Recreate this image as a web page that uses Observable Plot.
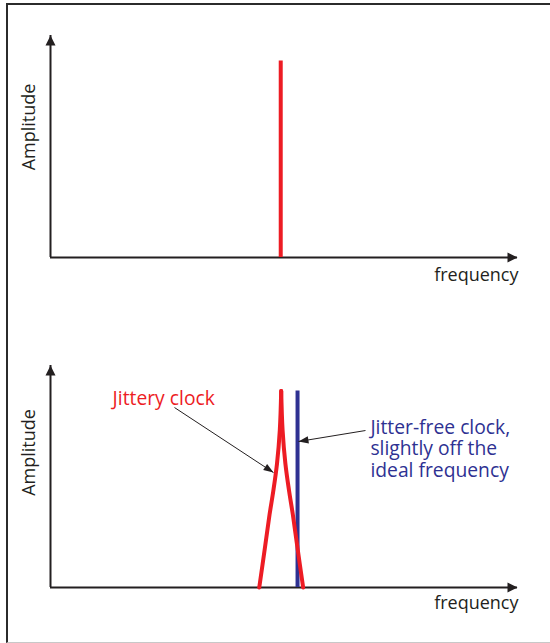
<!DOCTYPE html>
<html>
<head>
<meta charset="utf-8">
<script src="https://cdn.jsdelivr.net/npm/d3@7"></script>
<script src="https://cdn.jsdelivr.net/npm/@observablehq/plot@0.6"></script>
<style>
  body { margin: 0; background: #fff; }
  #wrap { position: relative; width: 550px; height: 643px; overflow: hidden; font-family: "Open Sans", sans-serif; }
  #frame { position: absolute; left: 6px; top: 3px; right: 0; bottom: 0;
           border-top: 2px solid #2b2b2b; border-left: 2px solid #2b2b2b; border-bottom: 1px solid #c8c8c8; }
  .panel { position: absolute; left: 0; }
</style>
</head>
<body>
<div id="wrap">
  <div id="frame"></div>
  <div id="p1" class="panel" style="top:0px"></div>
  <div id="p2" class="panel" style="top:321px"></div>
</div>
<script>
(function () {
// ---------- data ----------
const idealFrequency = 49.3;      // ideal clock frequency (x units, axis 0..100)
const offFrequency = 52.9;        // jitter-free clock, slightly off
const peakAmplitude = 1;
const jitterFreq = [44.7, 45.9, 46.9, 47.7, 48.5, 49.1, 49.4, 49.7, 50.3, 51.1, 51.9, 52.9, 54.1];
const jitterAmp  = [0,    0.20, 0.37, 0.49, 0.63, 0.80, 1.00, 0.80, 0.63, 0.49, 0.37, 0.20, 0];
const xLabel = "frequency";
const yLabel = "Amplitude";
const jitterLabel = "Jittery clock";
const offLabel = "Jitter-free clock,\nslightly off the\nideal frequency";
// annotation anchors (data units)
const jitterLabelAt = [13.3, 0.958];
const jitterArrow = [26.55, 0.916, 47.75, 0.585];
const offLabelAt = [68.5, 0.861];
const offArrow = [67.45, 0.799, 53.1, 0.743];

// ---------- layout ----------
const W = 550, mL = 50, mR = 33, plotH = 222;
const xDomain = [0, 100], yMax = 1.13;
const ink = "#231f20", red = "#ed1c24", blue = "#2e3192";
const fontSize = 18, noteSize = 19.3;

// split the jittery peak into its two flanks, both ending at the apex
const apex = jitterAmp.indexOf(d3.max(jitterAmp));
const jitter = [];
jitterFreq.forEach((f, i) => {
  if (i <= apex) jitter.push({f, a: jitterAmp[i], side: "low"});
  if (i >= apex) jitter.push({f, a: jitterAmp[i], side: "high"});
});

function head(ratio) {
  return {draw(ctx, size) {
    const s = Math.sqrt(size);
    ctx.moveTo(0, 0);
    ctx.lineTo(-ratio * s, s);
    ctx.lineTo(ratio * s, s);
    ctx.closePath();
  }};
}
const axisHead = head(0.5), noteHead = head(0.36);
const rFor = (len) => len / Math.sqrt(Math.PI);

const xPx = d3.scaleLinear(xDomain, [mL, W - mR]);
const yPx = d3.scaleLinear([0, yMax], [plotH, 0]);
function angle([x1, y1, x2, y2]) {
  const dx = xPx(x2) - xPx(x1), dy = yPx(y2) - yPx(y1);
  return Math.atan2(dy, dx) * 180 / Math.PI + 90;
}

function axes(labelDy, freqDy) {
  return [
    Plot.ruleX([0], {y1: 0, y2: yMax, stroke: ink, strokeWidth: 2}),
    Plot.ruleY([0], {x1: 0, x2: xDomain[1], stroke: ink, strokeWidth: 2}),
    Plot.dot([0], {x: () => 0, y: () => yMax, symbol: axisHead, r: rFor(10), fill: ink, stroke: "none", rotate: 0}),
    Plot.dot([0], {x: () => xDomain[1], y: () => 0, symbol: axisHead, r: rFor(10), fill: ink, stroke: "none", rotate: 90}),
    Plot.text([yLabel], {text: d => d, frameAnchor: "left", textAnchor: "middle", lineAnchor: "middle", rotate: -90, dx: -21, dy: labelDy, fill: ink, fontSize}),
    Plot.text([xLabel], {text: d => d, frameAnchor: "bottom-right", textAnchor: "end", lineAnchor: "middle", dx: 1, dy: freqDy, fill: ink, fontSize})
  ];
}

function base(height, mT, marks) {
  return Plot.plot({
    width: W, height, marginLeft: mL, marginRight: mR, marginTop: mT, marginBottom: height - mT - plotH,
    x: {domain: xDomain, axis: null},
    y: {domain: [0, yMax], axis: null},
    style: {fontFamily: "'Open Sans', sans-serif", fontSize: "18px", background: "transparent", overflow: "visible"},
    marks
  });
}

const topPlot = base(321, 35, [
  ...axes(-19.5, 17.4),
  Plot.ruleX([idealFrequency], {y1: 0, y2: peakAmplitude, stroke: red, strokeWidth: 4})
]);
document.getElementById("p1").append(topPlot);

const bottomPlot = base(322, 44, [
  ...axes(-24, 16),
  Plot.ruleX([offFrequency], {y1: 0, y2: peakAmplitude, stroke: blue, strokeWidth: 4}),
  Plot.line(jitter, {x: "f", y: "a", z: "side", stroke: red, strokeWidth: 4, curve: "catmull-rom", strokeLinecap: "round", strokeLinejoin: "round"}),
  Plot.text([jitterLabel], {text: d => d, x: () => jitterLabelAt[0], y: () => jitterLabelAt[1], textAnchor: "start", fill: red, fontSize: noteSize}),
  Plot.text([offLabel], {text: d => d, x: () => offLabelAt[0], y: () => offLabelAt[1], textAnchor: "start", lineAnchor: "top", lineHeight: 1.12, fill: blue, fontSize: noteSize}),
  Plot.link([jitterArrow], {x1: d => d[0], y1: d => d[1], x2: d => d[2], y2: d => d[3], stroke: ink, strokeWidth: 1}),
  Plot.dot([jitterArrow], {x: d => d[2], y: d => d[3], symbol: noteHead, r: rFor(10), fill: ink, stroke: "none", rotate: angle(jitterArrow)}),
  Plot.link([offArrow], {x1: d => d[0], y1: d => d[1], x2: d => d[2], y2: d => d[3], stroke: ink, strokeWidth: 1}),
  Plot.dot([offArrow], {x: d => d[2], y: d => d[3], symbol: noteHead, r: rFor(10), fill: ink, stroke: "none", rotate: angle(offArrow)})
]);
document.getElementById("p2").append(bottomPlot);
})();
</script>
</body>
</html>
